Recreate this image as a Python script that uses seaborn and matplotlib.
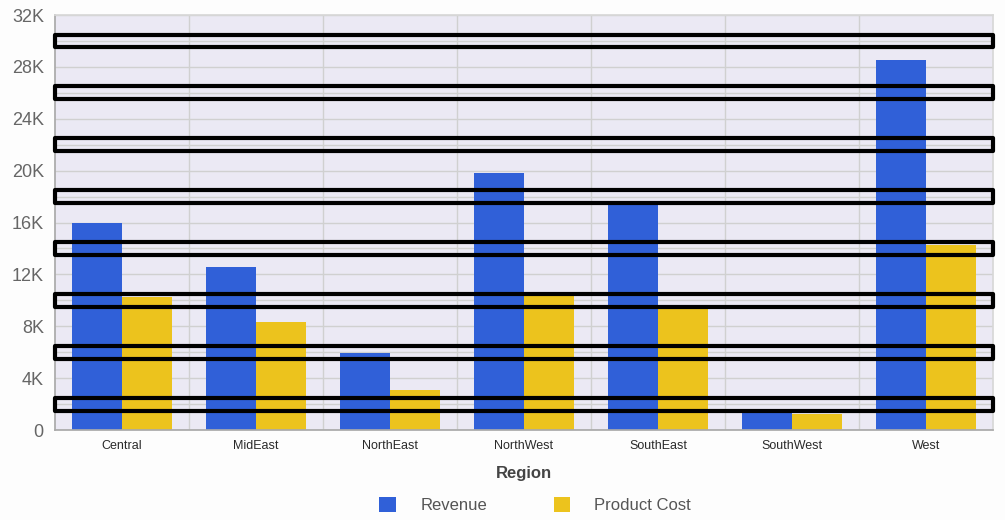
import numpy as np
import pandas as pd
import seaborn as sns
import matplotlib.pyplot as plt
from matplotlib.patches import Rectangle
from matplotlib.ticker import FuncFormatter, MultipleLocator

# data
regions = ['Central', 'MidEast', 'NorthEast', 'NorthWest', 'SouthEast', 'SouthWest', 'West']
revenue = [16000, 12550, 5950, 19800, 17400, 1550, 28500]
product_cost = [10250, 8300, 3100, 10550, 9300, 1250, 14250]
band_centers = [2000, 6000, 10000, 14000, 18000, 22000, 26000, 30000]

df = pd.DataFrame({'Region': regions * 2,
                   'Value': revenue + product_cost,
                   'Series': ['Revenue'] * len(regions) + ['Product Cost'] * len(regions)})

sns.set_theme(style='whitegrid')
plt.rcParams['font.family'] = ['Liberation Sans', 'DejaVu Sans']

fig = plt.figure(figsize=(10.05, 5.2), dpi=100)
fig.patch.set_facecolor('#fdfdfd')
ax = fig.add_axes([0.0547, 0.173, 0.9335, 0.798])
ax.set_facecolor('#ebe9f4')

sns.barplot(data=df, x='Region', y='Value', hue='Series',
            palette=['#3060d8', '#ecc31d'], width=0.75, gap=0,
            saturation=1, linewidth=0, ax=ax, zorder=2)

ax.set_ylim(0, 32000)
ax.set_xlim(-0.5, len(regions) - 0.5)
ax.yaxis.set_major_locator(MultipleLocator(4000))
ax.yaxis.set_minor_locator(MultipleLocator(2000))
ax.yaxis.set_major_formatter(FuncFormatter(lambda v, p: '0' if v == 0 else f'{int(v / 1000)}K'))
ax.set_xticks(np.arange(len(regions) - 1) + 0.5, minor=True)
ax.grid(False)
ax.grid(True, which='both', axis='y', color='#d0d0d0', lw=1, zorder=0)
ax.grid(True, which='minor', axis='x', color='#d0d0d0', lw=1, zorder=0)
ax.set_axisbelow(True)
ax.tick_params(axis='both', which='both', length=0)
ax.tick_params(axis='y', labelsize=13, labelcolor='#666666', pad=8)
ax.tick_params(axis='x', labelsize=9, labelcolor='#2a2a2a', pad=7)

for side in ['top', 'right']:
    ax.spines[side].set_color('#d8d8d8')
for side in ['left', 'bottom']:
    ax.spines[side].set_color('#aaaaaa')

ax.set_xlabel('Region', fontsize=12, fontweight='bold', color='#444444', labelpad=10)
ax.set_ylabel('')

for c in band_centers:
    ax.add_patch(Rectangle((-0.5, c - 500), len(regions), 1000, fill=False,
                           edgecolor='black', lw=3, joinstyle='round',
                           zorder=5, clip_on=False))

handles, labels = ax.get_legend_handles_labels()
ax.legend(handles, labels, loc='upper center', bbox_to_anchor=(0.512, -0.125),
          ncol=2, frameon=False, fontsize=12, labelcolor='#555555',
          handlelength=1.0, handleheight=1.0, columnspacing=4.0, handletextpad=1.45)

fig.savefig('out.png', dpi=100)
